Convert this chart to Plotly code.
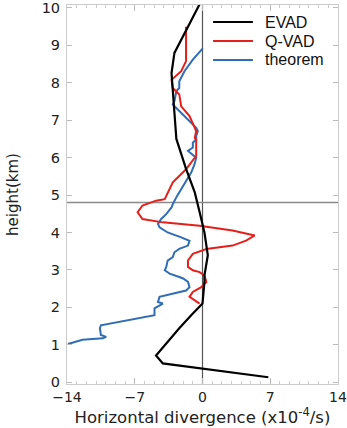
import plotly.graph_objects as go

# EVAD (black)
evad_y = [0.13, 0.5, 0.71, 1.05, 1.44, 1.79, 2.1, 2.68, 2.85, 3.39, 4.0, 4.55, 5.07, 5.7, 6.5, 7.2, 7.9, 8.26, 8.8, 9.24, 9.59, 10.1]
evad_x = [6.8, -4.1, -4.8, -3.7, -2.4, -1.17, 0.0, 0.2, 0.2, 0.55, 0.2, -0.3, -0.8, -1.7, -2.7, -2.9, -3.07, -3.2, -2.9, -2.0, -1.34, -0.3]

# Q-VAD (red)
qvad_y = [2.1, 2.19, 2.28, 2.41, 2.54, 2.68, 2.85, 2.94, 2.99, 3.08, 3.25, 3.43, 3.56, 3.65, 3.78, 3.92, 4.05, 4.18, 4.27, 4.36, 4.54, 4.72, 4.85, 4.89, 5.16, 5.34, 5.69, 6.05, 6.49, 6.53, 6.71, 7.11, 7.37, 7.69, 7.86, 8.08, 8.31, 8.58, 9.5]
qvad_x = [-0.3, -0.8, -1.34, -1.0, -0.13, 0.4, 0.2, -0.3, -1.0, -1.5, -1.5, -1.0, 0.4, 3.1, 4.5, 5.4, 3.1, -0.3, -4.1, -6.2, -6.7, -6.2, -4.8, -3.9, -3.4, -3.07, -1.7, -0.65, -0.65, -0.8, -0.65, -1.34, -2.2, -2.4, -3.07, -3.2, -2.2, -1.7, -1.7]

# theorem (blue)
theo_y = [1.02, 1.13, 1.17, 1.21, 1.26, 1.44, 1.52, 1.66, 1.79, 1.97, 2.1, 2.14, 2.28, 2.45, 2.54, 2.68, 2.77, 2.81, 2.9, 2.99, 3.07, 3.25, 3.34, 3.47, 3.56, 3.65, 3.78, 3.87, 4.0, 4.14, 4.23, 4.36, 4.49, 4.67, 4.76, 4.94, 5.07, 5.25, 5.43, 5.6, 5.82, 6.0, 6.18, 6.27, 6.4, 6.49, 6.58, 6.71, 6.8, 6.93, 7.2, 7.42, 7.51, 7.78, 7.86, 8.04, 8.31, 8.62, 8.92]
theo_x = [-13.9, -12.4, -10.3, -9.95, -10.5, -10.6, -10.5, -7.5, -4.96, -4.96, -4.1, -4.6, -4.44, -1.7, -1.34, -1.5, -2.0, -2.4, -3.4, -3.9, -3.75, -3.6, -3.07, -2.9, -2.4, -1.5, -1.34, -2.2, -3.6, -4.44, -4.6, -4.27, -3.75, -3.2, -3.07, -2.7, -2.4, -2.0, -1.5, -1.17, -0.83, -0.65, -1.5, -1.0, -1.0, -0.65, -0.65, -0.48, -0.65, -1.17, -2.2, -3.07, -2.9, -2.7, -2.4, -2.4, -1.86, -1.0, 0.03]

series_names = ["EVAD", "Q-VAD", "theorem"]
series_colors = ["#000000", "#e3201c", "#2f6db5"]

x_ticks = [-14, -7, 0, 7, 14]
x_ticktext = ["\u221214", "\u22127", "0", "7", "14"]
y_ticks = [0, 1, 2, 3, 4, 5, 6, 7, 8, 9, 10]
ref_height = 4.8

fig = go.Figure()
fig.add_trace(go.Scatter(x=theo_x, y=theo_y, mode="lines", name=series_names[2],
                         line=dict(color=series_colors[2], width=2)))
fig.add_trace(go.Scatter(x=qvad_x, y=qvad_y, mode="lines", name=series_names[1],
                         line=dict(color=series_colors[1], width=2)))
fig.add_trace(go.Scatter(x=evad_x, y=evad_y, mode="lines", name=series_names[0],
                         line=dict(color=series_colors[0], width=2.2)))

fig.add_shape(type="line", xref="x", yref="paper", x0=0, x1=0, y0=0, y1=1,
              line=dict(color="#555555", width=1.2), layer="below")
fig.add_shape(type="line", xref="paper", yref="y", x0=0, x1=1, y0=ref_height, y1=ref_height,
              line=dict(color="#8a8a8a", width=1.6), layer="below")

# manual legend (no box), placed top-right inside plot
leg_y = [0.955, 0.905, 0.855]
for name, color, yy in zip(series_names, series_colors, leg_y):
    fig.add_shape(type="line", xref="paper", yref="paper", x0=0.539, x1=0.686, y0=yy, y1=yy,
                  line=dict(color=color, width=2))
    fig.add_annotation(xref="paper", yref="paper", x=0.723, y=yy, text=name, showarrow=False,
                       xanchor="left", yanchor="middle",
                       font=dict(family="Liberation Sans, Arial, sans-serif", size=16, color="#111"))

fig.update_layout(
    width=347, height=428,
    margin=dict(l=67, r=9, t=5, b=44, autoexpand=False),
    paper_bgcolor="white", plot_bgcolor="white",
    font=dict(family="DejaVu Sans, sans-serif", size=14, color="#222"),
    showlegend=False,
)
fig.update_xaxes(range=[-14, 14], tickvals=x_ticks, ticktext=x_ticktext,
                 showgrid=False, zeroline=False, automargin=False,
                 showline=True, linecolor="#cccccc", linewidth=1, mirror="ticks",
                 ticks="inside", ticklen=6, tickcolor="#bbbbbb",
                 minor=dict(dtick=1, ticks="inside", ticklen=3, tickcolor="#cccccc"),
                 tickfont=dict(size=14),
                 title=dict(text="Horizontal divergence (x10<sup>-4</sup>/s)",
                            font=dict(size=16.5), standoff=2))
fig.update_yaxes(range=[-0.05, 10.08], tickvals=y_ticks,
                 showgrid=False, zeroline=False, ticklabeloverflow="allow", automargin=False,
                 showline=True, linecolor="#cccccc", linewidth=1, mirror="ticks",
                 ticks="inside", ticklen=5, tickcolor="#bbbbbb",
                 tickfont=dict(size=14.5), ticklabelstandoff=3,
                 title=dict(text="height(km)", font=dict(size=15), standoff=19))

fig.write_html("out.html")
